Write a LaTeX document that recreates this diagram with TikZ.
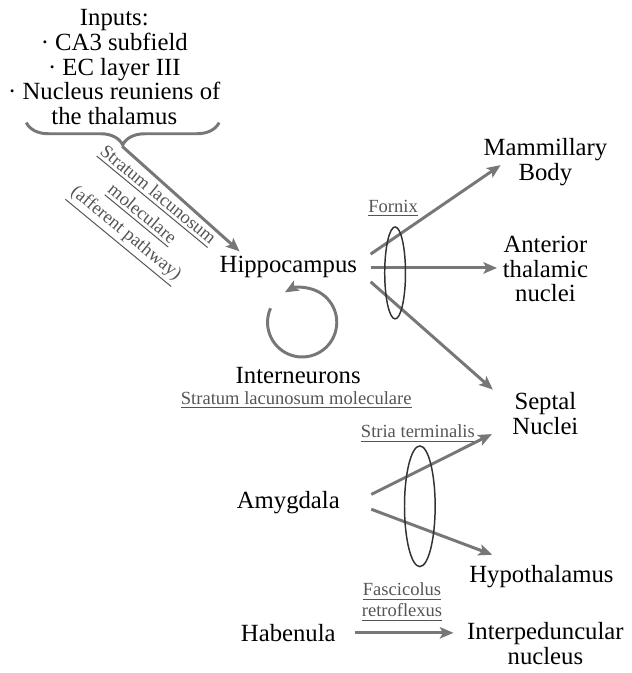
\documentclass[tikz,border=0pt]{standalone}
\usepackage{fontspec}
\setmainfont{Liberation Serif}
\usetikzlibrary{arrows.meta, positioning, calc, decorations.pathreplacing}
\definecolor{tract}  {HTML}{777777}
\definecolor{bundle} {HTML}{333333}
\definecolor{caption}{HTML}{555555}

\begin{document}
\begin{tikzpicture}[x=0.4pt, y=0.4pt,
    hpnode/.style={font=\fontsize{10}{10}\selectfont, align=center, inner sep=3.33pt},
    hptract/.style={text=caption, font=\fontsize{7.5}{8.5}\selectfont, align=center},
    hpflow/.style={-{Stealth[length=5.5pt, width=4.6pt, inset=1.2pt]}, line width=1.2pt, tract},
    hpring/.style={draw=bundle, line width=0.6pt}
  ]
    \node[hpnode] (inp) at (114,-68) {Inputs:\\
      \textperiodcentered\ CA3 subfield\\
      \textperiodcentered\ EC layer III\\
      \textperiodcentered\ Nucleus reuniens of\\
      the thalamus};

    \node[hpnode] (hip)  at (290,-270) {Hippocampus};
    \node[hpnode] (intn) at (300,-380) {Interneurons};
    \node[hpnode] (amy)  at (290,-508) {Amygdala};
    \node[hpnode] (hab)  at (290,-640) {Habenula};

    \node[hpnode] (mam) at (550,-164) {Mammillary\\ Body};
    \node[hpnode] (ant) at (550,-272) {Anterior\\ thalamic\\ nuclei};
    \node[hpnode] (sep) at (550,-418) {Septal\\ Nuclei};
    \node[hpnode] (hyp) at (546,-583) {Hypothalamus};
    \node[hpnode] (ipn) at (550,-651) {Interpeduncular\\ nucleus};

    \node[hptract] (fx)  at (396,-211) {\underline{Fornix}};
    \node[hptract] (slm) at (298,-405) {\underline{Stratum lacunosum moleculare}};
    \node[hptract] (st)  at (421,-439) {\underline{Stria terminalis}};
    \node[hptract] (fr)  at (405,-609) {\underline{Fascicolus}\\ \underline{retroflexus}};
    \node[hptract, font=\fontsize{7.5}{10}\selectfont, rotate=-39.5] (aff) at (140,-219)
      {\underline{Stratum lacunosum}\\ \underline{moleculare}\\ \underline{(afferent pathway)}};

    % inputs gathered by one brace, its tip feeds the hippocampus
    \draw[tract, line width=1.2pt, decorate, decoration={brace, mirror, amplitude=9pt}]
      (25,-124) -- (220,-124);
    \coordinate (tip) at (122,-148);
    \draw[hpflow] (tip) -- ($(hip.north west)+(29,-4)$);

    % recurrent loop of the interneurons
    \coordinate (loop) at (304,-326);
    \draw[hpflow] ([shift={(156:14pt)}]loop) arc[start angle=156, end angle=480, radius=14pt];

    \draw[hpflow] ($(hip.east)+(5,13)$)  -- ($(mam.west)+(26,-3)$);
    \draw[hpflow] ($(hip.east)+(5,-1)$)  -- ($(hip.east -| ant.west)+(3,-1)$);
    \draw[hpflow] ($(hip.east)+(5,-15)$) -- ($(sep.west)+(-11,24)$);
    \draw[hpring] (398,-276) ellipse[x radius=4.2pt, y radius=18.6pt];

    \draw[hpflow] ($(amy.east)+(23,8)$)  -- ($(sep.west)+(-12,-21)$);
    \draw[hpflow] ($(amy.east)+(23,-7)$) -- ($(hyp.west)+(32,22)$);
    \draw[hpring] (423,-512) ellipse[x radius=6.2pt, y radius=24.4pt];

    \draw[hpflow] ($(hab.east)+(11,0)$) -- ($(hab.east -| ipn.west)+(-5,0)$);

    \useasboundingbox (0,0) rectangle (630,-673);
  \end{tikzpicture}
\end{document}
